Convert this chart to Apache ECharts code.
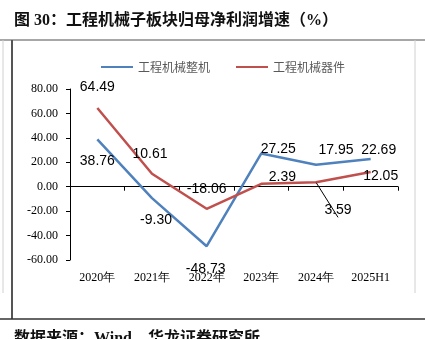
<!DOCTYPE html>
<html>
<head>
<meta charset="utf-8">
<script src="https://cdn.jsdelivr.net/npm/echarts@6/dist/echarts.min.js"></script>
<style>
  html, body { margin: 0; padding: 0; background: #fff; }
  #chart { width: 425px; height: 339px; }
</style>
</head>
<body>
<div id="chart"></div>
<script>
// Profit growth of construction-machinery sub-sectors (%)
const categories = ['2020年', '2021年', '2022年', '2023年', '2024年', '2025H1'];
const seriesNames = ['工程机械整机', '工程机械器件'];
const machineGrowth = [38.76, -9.30, -48.73, 27.25, 17.95, 22.69];
const partsGrowth = [64.49, 10.61, -18.06, 2.39, 3.59, 12.05];
const yTicks = { min: -60, max: 80, step: 20 };

// Label placement relative to each point (pixels)
const machineLabelShift = [[0, 22], [4, 22], [-1, 23], [17, -4], [20, -15], [8, -9]];
const partsLabelShift = [[0, -21], [-2, -20], [0, -20], [21, -7], [22, 28], [10, 4]];

const labelFont = { fontFamily: 'Liberation Sans, Arial, sans-serif', fontSize: 14, color: '#000' };
const serif = 'Liberation Serif, Times New Roman, serif';

function buildData(values, shifts, leaderIdx) {
  return values.map((v, i) => {
    const item = {
      value: v,
      label: { show: true, position: 'inside', offset: shifts[i], formatter: v.toFixed(2) }
    };
    if (i === leaderIdx) item.labelLine = { show: true, lineStyle: { color: '#000', width: 1 } };
    return item;
  });
}

const chart = echarts.init(document.getElementById('chart'));
chart.setOption({
  backgroundColor: '#fff',
  animation: false,
  graphic: [
    { type: 'text', left: 14, top: 13, style: { text: '图 30：工程机械子板块归母净利润增速（%）', font: 'bold 16px "Liberation Serif", "Noto Sans CJK SC"', fill: '#111' } },
    { type: 'line', shape: { x1: 0, y1: 40, x2: 425, y2: 40 }, style: { stroke: '#8a8a8a', lineWidth: 1.5 } },
    { type: 'line', shape: { x1: 3, y1: 40, x2: 3, y2: 293 }, style: { stroke: '#d0d0d0', lineWidth: 1 } },
    { type: 'line', shape: { x1: 415, y1: 40, x2: 415, y2: 293 }, style: { stroke: '#d0d0d0', lineWidth: 1 } },
    { type: 'line', shape: { x1: 12, y1: 40, x2: 12, y2: 319 }, style: { stroke: '#555', lineWidth: 2 } },
    { type: 'line', shape: { x1: 0, y1: 319, x2: 425, y2: 319 }, style: { stroke: '#333', lineWidth: 1.5 } },
    { type: 'text', left: 14, top: 331, style: { text: '数据来源：Wind，华龙证券研究所', font: 'bold 16px "Liberation Serif", "Noto Sans CJK SC"', fill: '#111' } }
  ],
  legend: {
    left: 95, top: 56, itemGap: 25, itemWidth: 32, itemHeight: 12,
    textStyle: { fontFamily: 'Noto Sans CJK SC', fontSize: 12, color: '#595959' },
    data: seriesNames
  },
  grid: { left: 70, right: 27, top: 89, bottom: 79, containLabel: false },
  xAxis: [
    {
      type: 'category', data: categories, boundaryGap: true,
      axisLine: { onZero: true, lineStyle: { color: '#000', width: 1 } },
      axisTick: { show: true, length: 4, lineStyle: { color: '#000' } },
      axisLabel: { show: false }
    },
    {
      type: 'category', data: categories, boundaryGap: true, position: 'bottom',
      axisLine: { show: false, onZero: false }, axisTick: { show: false },
      axisLabel: { margin: 12, fontFamily: serif, fontSize: 12, color: '#000' }
    }
  ],
  yAxis: {
    type: 'value', min: yTicks.min, max: yTicks.max, interval: yTicks.step,
    axisLine: { show: true, lineStyle: { color: '#000' } },
    axisTick: { show: true, length: 4, lineStyle: { color: '#000' } },
    splitLine: { show: false },
    axisLabel: { margin: 12, fontFamily: serif, fontSize: 12, color: '#000', formatter: v => v.toFixed(2) }
  },
  series: [
    {
      name: seriesNames[0], type: 'line', xAxisIndex: 0,
      symbol: 'circle', symbolSize: 1, showSymbol: true,
      lineStyle: { color: '#4f81bd', width: 2.5 }, itemStyle: { color: 'rgba(0,0,0,0)' },
      label: labelFont,
      data: buildData(machineGrowth, machineLabelShift, -1)
    },
    {
      name: seriesNames[1], type: 'line', xAxisIndex: 0,
      symbol: 'circle', symbolSize: 1, showSymbol: true,
      lineStyle: { color: '#c0504d', width: 2.5 }, itemStyle: { color: 'rgba(0,0,0,0)' },
      label: labelFont,
      data: buildData(partsGrowth, partsLabelShift, 4)
    }
  ]
});
</script>
</body>
</html>
